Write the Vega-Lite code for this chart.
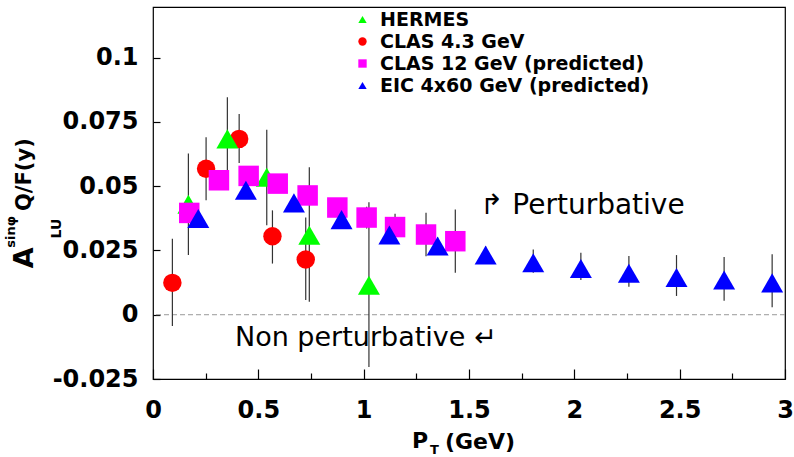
{
  "$schema": "https://vega.github.io/schema/vega-lite/v6.json",
  "width": 632,
  "height": 372,
  "autosize": {"type": "none"},
  "padding": {"left": 153, "top": 7, "right": 9, "bottom": 78},
  "background": "white",
  "config": {
    "view": {"stroke": "#000", "strokeWidth": 1.2},
    "font": "DejaVu Sans",
    "axis": {"grid": false, "domain": false, "ticks": true, "tickColor": "#000", "labelColor": "#000", "labelFont": "DejaVu Sans", "labelFontWeight": "bold", "labelFontSize": 24, "tickWidth": 1.2, "labelFlush": false, "labelOverlap": false, "labelBound": false}
  },
  "resolve": {"axis": {"x": "independent"}},
  "datasets": {
    "points": [
      {"series": "CLAS 4.3 GeV", "x": 0.092, "y": 0.0124, "ylo": -0.0044, "yhi": 0.0296},
      {"series": "CLAS 4.3 GeV", "x": 0.252, "y": 0.0568, "ylo": 0.0445, "yhi": 0.069},
      {"series": "CLAS 4.3 GeV", "x": 0.409, "y": 0.0684, "ylo": 0.059, "yhi": 0.0781},
      {"series": "CLAS 4.3 GeV", "x": 0.567, "y": 0.0305, "ylo": 0.0199, "yhi": 0.0406},
      {"series": "CLAS 4.3 GeV", "x": 0.725, "y": 0.0215, "ylo": 0.0057, "yhi": 0.0378},
      {"series": "HERMES", "x": 0.168, "y": 0.043, "ylo": 0.0232, "yhi": 0.0627},
      {"series": "HERMES", "x": 0.353, "y": 0.0684, "ylo": 0.0561, "yhi": 0.0846},
      {"series": "HERMES", "x": 0.54, "y": 0.0535, "ylo": 0.0348, "yhi": 0.072},
      {"series": "HERMES", "x": 0.742, "y": 0.0309, "ylo": 0.005, "yhi": 0.0574},
      {"series": "HERMES", "x": 1.025, "y": 0.0115, "ylo": -0.0203, "yhi": 0.0438},
      {"series": "CLAS 12 GeV (predicted)", "x": 0.172, "y": 0.0396, "ylo": 0.037, "yhi": 0.042},
      {"series": "CLAS 12 GeV (predicted)", "x": 0.313, "y": 0.0523, "ylo": 0.05, "yhi": 0.0546},
      {"series": "CLAS 12 GeV (predicted)", "x": 0.454, "y": 0.054, "ylo": 0.0515, "yhi": 0.0565},
      {"series": "CLAS 12 GeV (predicted)", "x": 0.592, "y": 0.051, "ylo": 0.048, "yhi": 0.054},
      {"series": "CLAS 12 GeV (predicted)", "x": 0.734, "y": 0.0464, "ylo": 0.043, "yhi": 0.0498},
      {"series": "CLAS 12 GeV (predicted)", "x": 0.875, "y": 0.0417, "ylo": 0.038, "yhi": 0.0454},
      {"series": "CLAS 12 GeV (predicted)", "x": 1.014, "y": 0.0378, "ylo": 0.0335, "yhi": 0.042},
      {"series": "CLAS 12 GeV (predicted)", "x": 1.149, "y": 0.0341, "ylo": 0.029, "yhi": 0.0393},
      {"series": "CLAS 12 GeV (predicted)", "x": 1.296, "y": 0.0312, "ylo": 0.0227, "yhi": 0.0397},
      {"series": "CLAS 12 GeV (predicted)", "x": 1.435, "y": 0.0286, "ylo": 0.0163, "yhi": 0.0409},
      {"series": "EIC 4x60 GeV (predicted)", "x": 0.215, "y": 0.0374, "ylo": 0.0355, "yhi": 0.0393},
      {"series": "EIC 4x60 GeV (predicted)", "x": 0.441, "y": 0.0484, "ylo": 0.0465, "yhi": 0.0503},
      {"series": "EIC 4x60 GeV (predicted)", "x": 0.669, "y": 0.0435, "ylo": 0.0413, "yhi": 0.0457},
      {"series": "EIC 4x60 GeV (predicted)", "x": 0.895, "y": 0.037, "ylo": 0.0345, "yhi": 0.0395},
      {"series": "EIC 4x60 GeV (predicted)", "x": 1.122, "y": 0.031, "ylo": 0.028, "yhi": 0.034},
      {"series": "EIC 4x60 GeV (predicted)", "x": 1.351, "y": 0.0267, "ylo": 0.0235, "yhi": 0.03},
      {"series": "EIC 4x60 GeV (predicted)", "x": 1.579, "y": 0.0232, "ylo": 0.02, "yhi": 0.0265},
      {"series": "EIC 4x60 GeV (predicted)", "x": 1.805, "y": 0.0202, "ylo": 0.0163, "yhi": 0.0254},
      {"series": "EIC 4x60 GeV (predicted)", "x": 2.031, "y": 0.018, "ylo": 0.0135, "yhi": 0.0241},
      {"series": "EIC 4x60 GeV (predicted)", "x": 2.259, "y": 0.0161, "ylo": 0.0109, "yhi": 0.0228},
      {"series": "EIC 4x60 GeV (predicted)", "x": 2.485, "y": 0.0145, "ylo": 0.0073, "yhi": 0.0232},
      {"series": "EIC 4x60 GeV (predicted)", "x": 2.711, "y": 0.0135, "ylo": 0.0054, "yhi": 0.0225},
      {"series": "EIC 4x60 GeV (predicted)", "x": 2.939, "y": 0.0124, "ylo": 0.0029, "yhi": 0.0235}
    ]
  },
  "layer": [
    {
      "data": {"values": [{"level": 0}]},
      "mark": {"type": "rule", "color": "#999999", "strokeWidth": 1, "strokeDash": [5, 3]},
      "encoding": {
        "y": {"field": "level", "type": "quantitative", "scale": {"domain": [-0.025, 0.1197], "nice": false, "zero": false}, "axis": {"title": null, "values": [-0.025, 0, 0.025, 0.05, 0.075, 0.1], "labelExpr": "'' + datum.value", "offset": -7, "tickSize": 7, "labelPadding": 15}}
      }
    },
    {
      "data": {"name": "points"},
      "mark": {"type": "rule", "color": "#333333", "strokeWidth": 1.2},
      "encoding": {
        "x": {"field": "x", "type": "quantitative", "scale": {"domain": [0, 3], "nice": false, "zero": false}, "axis": {"title": null, "orient": "bottom", "values": [0, 0.5, 1, 1.5, 2, 2.5, 3], "labelExpr": "'' + datum.value", "offset": -10, "tickSize": 10, "labelPadding": 19}},
        "y": {"field": "ylo", "type": "quantitative", "title": null},
        "y2": {"field": "yhi"}
      }
    },
    {
      "data": {"name": "points"},
      "mark": {"type": "point", "filled": true, "opacity": 1, "strokeWidth": 0},
      "encoding": {
        "x": {"field": "x", "type": "quantitative", "axis": null},
        "y": {"field": "y", "type": "quantitative", "title": null},
        "color": {"field": "series", "type": "nominal", "scale": {"domain": ["HERMES", "CLAS 4.3 GeV", "CLAS 12 GeV (predicted)", "EIC 4x60 GeV (predicted)"], "range": ["#00ff00", "#ff0000", "#ff00ff", "#0000ff"]},
          "legend": {"title": null, "orient": "none", "legendX": 200, "legendY": 3, "padding": 0, "rowPadding": 2, "labelFont": "DejaVu Sans", "labelFontSize": 19, "labelFontWeight": "bold", "labelOffset": 8, "labelLimit": 500, "symbolSize": 70, "encode": {"labels": {"update": {"fill": {"signal": "scale('color', datum.value)"}}}}}},
        "shape": {"field": "series", "type": "nominal", "scale": {"domain": ["HERMES", "CLAS 4.3 GeV", "CLAS 12 GeV (predicted)", "EIC 4x60 GeV (predicted)"], "range": ["triangle-up", "circle", "square", "triangle-up"]},
          "legend": {"title": null, "orient": "none", "legendX": 200, "legendY": 3, "padding": 0, "rowPadding": 2, "labelFont": "DejaVu Sans", "labelFontSize": 19, "labelFontWeight": "bold", "labelOffset": 8, "labelLimit": 500, "symbolSize": 70, "encode": {"labels": {"update": {"fill": {"signal": "scale('color', datum.value)"}}}}}},
        "size": {"condition": [{"test": "datum.series === 'CLAS 4.3 GeV'", "value": 340}, {"test": "datum.series === 'CLAS 12 GeV (predicted)'", "value": 420}], "value": 484}
      }
    },
    {
      "data": {"values": [{"t": "↱ Perturbative"}]},
      "mark": {"type": "text", "font": "DejaVu Sans", "fontSize": 28, "align": "left", "baseline": "middle", "color": "#000"},
      "encoding": {"x": {"datum": 1.552, "type": "quantitative", "axis": null}, "y": {"datum": 0.0424, "type": "quantitative"}, "text": {"field": "t"}}
    },
    {
      "data": {"values": [{"t": "Non perturbative ↵"}]},
      "mark": {"type": "text", "font": "DejaVu Sans", "fontSize": 27, "align": "left", "baseline": "middle", "color": "#000"},
      "encoding": {"x": {"datum": 0.389, "type": "quantitative", "axis": {"title": null, "orient": "bottom", "values": [0.25, 0.75, 1.25, 1.75, 2.25, 2.75], "labels": false, "offset": -6, "tickSize": 6}}, "y": {"datum": -0.0091, "type": "quantitative"}, "text": {"field": "t"}}
    },
    {
      "data": {"values": [{"t": "P"}]},
      "mark": {"type": "text", "font": "DejaVu Sans", "fontWeight": "bold", "fontSize": 22, "align": "left", "baseline": "middle", "color": "#000"},
      "encoding": {"x": {"datum": 1.229, "type": "quantitative", "axis": null}, "y": {"datum": -0.0491, "type": "quantitative"}, "text": {"field": "t"}}
    },
    {
      "data": {"values": [{"t": "T"}]},
      "mark": {"type": "text", "font": "DejaVu Sans", "fontWeight": "bold", "fontSize": 13, "align": "left", "baseline": "middle", "color": "#000"},
      "encoding": {"x": {"datum": 1.315, "type": "quantitative", "axis": null}, "y": {"datum": -0.0526, "type": "quantitative"}, "text": {"field": "t"}}
    },
    {
      "data": {"values": [{"t": "(GeV)"}]},
      "mark": {"type": "text", "font": "DejaVu Sans", "fontWeight": "bold", "fontSize": 22, "align": "left", "baseline": "middle", "color": "#000"},
      "encoding": {"x": {"datum": 1.386, "type": "quantitative", "axis": null}, "y": {"datum": -0.0495, "type": "quantitative"}, "text": {"field": "t"}}
    },
    {
      "data": {"values": [{"t": "Q/F(y)"}]},
      "mark": {"type": "text", "font": "DejaVu Sans", "fontWeight": "bold", "fontSize": 21, "angle": 270, "align": "center", "baseline": "middle", "color": "#000"},
      "encoding": {"x": {"datum": -0.6075, "type": "quantitative", "axis": null}, "y": {"datum": 0.0545, "type": "quantitative"}, "text": {"field": "t"}}
    },
    {
      "data": {"values": [{"t": "A"}]},
      "mark": {"type": "text", "font": "DejaVu Sans", "fontWeight": "bold", "fontSize": 27, "angle": 270, "align": "center", "baseline": "middle", "color": "#000"},
      "encoding": {"x": {"datum": -0.6075, "type": "quantitative", "axis": null}, "y": {"datum": 0.0221, "type": "quantitative"}, "text": {"field": "t"}}
    },
    {
      "data": {"values": [{"t": "sinφ"}]},
      "mark": {"type": "text", "font": "DejaVu Sans", "fontWeight": "bold", "fontSize": 13, "angle": 270, "align": "center", "baseline": "middle", "color": "#000"},
      "encoding": {"x": {"datum": -0.674, "type": "quantitative", "axis": null}, "y": {"datum": 0.0322, "type": "quantitative"}, "text": {"field": "t"}}
    },
    {
      "data": {"values": [{"t": "LU"}]},
      "mark": {"type": "text", "font": "DejaVu Sans", "fontWeight": "bold", "fontSize": 14, "angle": 270, "align": "center", "baseline": "middle", "color": "#000"},
      "encoding": {"x": {"datum": -0.4556, "type": "quantitative", "axis": null}, "y": {"datum": 0.0335, "type": "quantitative"}, "text": {"field": "t"}}
    }
  ]
}
